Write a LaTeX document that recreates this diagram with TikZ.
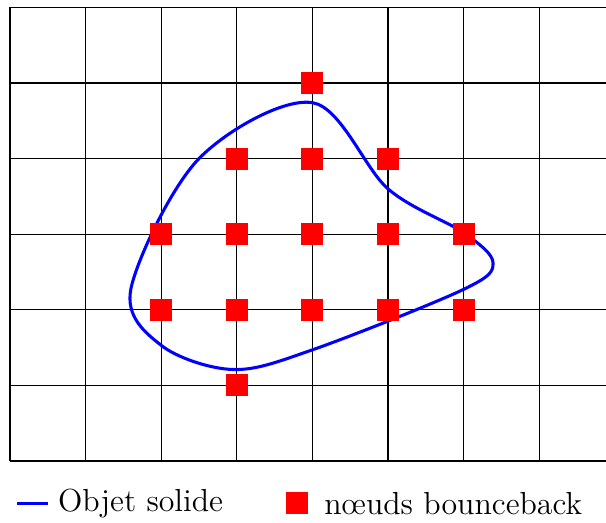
\documentclass[tikz,border=0pt]{standalone}
\usepackage{tikz}
\usepackage{xcolor}
\usetikzlibrary{positioning}

\begin{document}
\begin{tikzpicture}[x=1cm, y=1cm, font=\large]
    \tikzstyle{bb}    = [rectangle, fill=red, draw=none, inner sep=0pt,
                         minimum width=0.29cm, minimum height=0.29cm]
    \tikzstyle{solid} = [blue, line width=1.15pt]
    \tikzstyle{lgd}   = [right, inner sep=0pt, text=black]

    \useasboundingbox (-0.132,-0.82) rectangle (7.884,6.098);

    %% ── Lattice ────────────────────────────────────────────────────────────
    \draw[line width=0.4pt] (0,0) grid (8,6);

    %% ── Solid object (closed boundary) ─────────────────────────────────────
    \draw[solid] plot[smooth cycle, tension=0.55] coordinates {
        (4.0,4.74) (5.0,3.6) (6.0,3.02) (6.39,2.62) (6.0,2.27)
        (4.0,1.47) (2.95,1.21) (2.0,1.53) (1.6,2.28) (2.5,4.0)};

    %% ── Bounceback nodes: row 5 (top) down to row 1 ───────────────────────
    \node[bb] at (4,5) (b45) {};
    \node[bb] at (3,4) (b34) {};
    \node[bb] at (4,4) (b44) {};
    \node[bb] at (5,4) (b54) {};
    \node[bb] at (2,3) (b23) {};
    \node[bb] at (3,3) (b33) {};
    \node[bb] at (4,3) (b43) {};
    \node[bb] at (5,3) (b53) {};
    \node[bb] at (6,3) (b63) {};
    \node[bb] at (2,2) (b22) {};
    \node[bb] at (3,2) (b32) {};
    \node[bb] at (4,2) (b42) {};
    \node[bb] at (5,2) (b52) {};
    \node[bb] at (6,2) (b62) {};
    \node[bb] at (3,1) (b31) {};

    %% ── Legend ─────────────────────────────────────────────────────────────
    \coordinate (legA) at (0.09,-0.56);
    \coordinate (legB) at (0.50,-0.56);
    \draw[solid] (legA) -- (legB);
    \node[lgd, right=0.13cm of legB] (legsolid) {Objet solide};
    \node[bb] at (3.80,-0.56) (legbb) {};
    \node[lgd, right=0.2cm of legbb] (leglbl) {n\oe uds bounceback};
\end{tikzpicture}
\end{document}
